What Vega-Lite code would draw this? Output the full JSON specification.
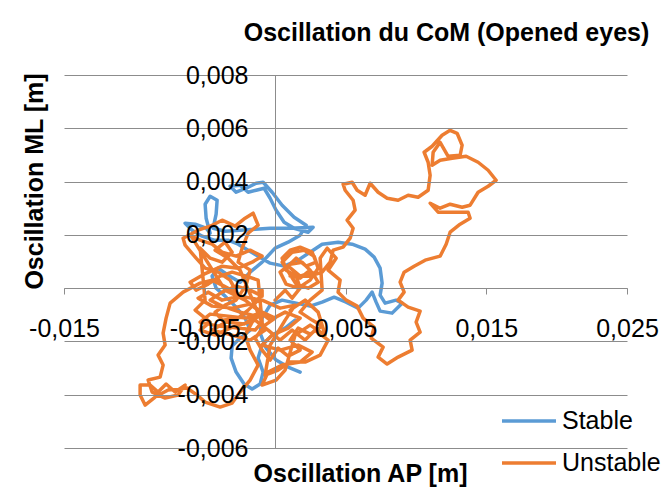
{
"$schema": "https://vega.github.io/schema/vega-lite/v6.json",
"width": 563, "height": 373,
"autosize": {"type": "none"},
"padding": {"left": 64, "top": 75, "right": 43, "bottom": 45},
"background": "white",
"config": {"view": {"stroke": null}, "font": "Liberation Sans"},
"title": {"text": "Oscillation du CoM (Opened eyes)", "font": "Liberation Sans", "fontSize": 25, "fontWeight": "bold", "color": "#000000", "anchor": "middle", "dx": 101, "offset": 17},
"data": {"values": [
{"s":"Stable","i":1,"x":0.001776,"y":-0.00315},
{"s":"Stable","i":2,"x":0.000924,"y":-0.002963},
{"s":"Stable","i":3,"x":0.000071,"y":-0.0027},
{"s":"Stable","i":4,"x":-0.000639,"y":-0.00225},
{"s":"Stable","i":5,"x":-0.001066,"y":-0.001688},
{"s":"Stable","i":6,"x":-0.000924,"y":-0.001125},
{"s":"Stable","i":7,"x":-0.000355,"y":-0.000638},
{"s":"Stable","i":8,"x":0.000497,"y":-0.00045},
{"s":"Stable","i":9,"x":0.001492,"y":-0.000563},
{"s":"Stable","i":10,"x":0.002487,"y":-0.000675},
{"s":"Stable","i":11,"x":0.003339,"y":-0.000525},
{"s":"Stable","i":12,"x":0.004192,"y":-0.000338},
{"s":"Stable","i":13,"x":0.005045,"y":-0.000525},
{"s":"Stable","i":14,"x":0.005897,"y":-0.00075},
{"s":"Stable","i":15,"x":0.006466,"y":-0.00045},
{"s":"Stable","i":16,"x":0.006892,"y":-0.00015},
{"s":"Stable","i":17,"x":0.007176,"y":-0.000525},
{"s":"Stable","i":18,"x":0.00746,"y":-0.000863},
{"s":"Stable","i":19,"x":0.008313,"y":-0.000938},
{"s":"Stable","i":20,"x":0.009023,"y":-0.000563},
{"s":"Stable","i":21,"x":0.008597,"y":-0.00045},
{"s":"Stable","i":22,"x":0.007816,"y":-0.000563},
{"s":"Stable","i":23,"x":0.00746,"y":-0.000263},
{"s":"Stable","i":24,"x":0.007602,"y":0.000188},
{"s":"Stable","i":25,"x":0.00746,"y":0.00075},
{"s":"Stable","i":26,"x":0.007034,"y":0.001163},
{"s":"Stable","i":27,"x":0.006395,"y":0.001463},
{"s":"Stable","i":28,"x":0.005471,"y":0.00165},
{"s":"Stable","i":29,"x":0.004476,"y":0.001725},
{"s":"Stable","i":30,"x":0.003339,"y":0.00165},
{"s":"Stable","i":31,"x":0.002487,"y":0.00135},
{"s":"Stable","i":32,"x":0.001634,"y":0.00105},
{"s":"Stable","i":33,"x":0.000639,"y":0.000825},
{"s":"Stable","i":34,"x":-0.000355,"y":0.000938},
{"s":"Stable","i":35,"x":-0.001208,"y":0.0012},
{"s":"Stable","i":36,"x":-0.001918,"y":0.001425},
{"s":"Stable","i":37,"x":-0.002629,"y":0.00165},
{"s":"Stable","i":38,"x":-0.003339,"y":0.0018},
{"s":"Stable","i":39,"x":-0.004334,"y":0.0018},
{"s":"Stable","i":40,"x":-0.005187,"y":0.00195},
{"s":"Stable","i":41,"x":-0.005897,"y":0.002175},
{"s":"Stable","i":42,"x":-0.006395,"y":0.002438},
{"s":"Stable","i":43,"x":-0.005684,"y":0.0024},
{"s":"Stable","i":44,"x":-0.004902,"y":0.00225},
{"s":"Stable","i":45,"x":-0.004618,"y":0.002063},
{"s":"Stable","i":46,"x":-0.004902,"y":0.002625},
{"s":"Stable","i":47,"x":-0.004974,"y":0.00315},
{"s":"Stable","i":48,"x":-0.004618,"y":0.00345},
{"s":"Stable","i":49,"x":-0.004121,"y":0.0033},
{"s":"Stable","i":50,"x":-0.004192,"y":0.002775},
{"s":"Stable","i":51,"x":-0.004405,"y":0.00225},
{"s":"Stable","i":52,"x":-0.003553,"y":0.002138},
{"s":"Stable","i":53,"x":-0.002487,"y":0.002175},
{"s":"Stable","i":54,"x":-0.001421,"y":0.002213},
{"s":"Stable","i":55,"x":-0.000355,"y":0.00225},
{"s":"Stable","i":56,"x":0.001066,"y":0.00225},
{"s":"Stable","i":57,"x":0.0027,"y":0.002288},
{"s":"Stable","i":58,"x":0.002345,"y":0.0021},
{"s":"Stable","i":59,"x":0.00135,"y":0.00225},
{"s":"Stable","i":60,"x":0.000639,"y":0.002475},
{"s":"Stable","i":61,"x":0.000071,"y":0.002925},
{"s":"Stable","i":62,"x":-0.000355,"y":0.003375},
{"s":"Stable","i":63,"x":-0.000782,"y":0.00375},
{"s":"Stable","i":64,"x":-0.00135,"y":0.003675},
{"s":"Stable","i":65,"x":-0.001918,"y":0.0036},
{"s":"Stable","i":66,"x":-0.002487,"y":0.003863},
{"s":"Stable","i":67,"x":-0.003197,"y":0.003825},
{"s":"Stable","i":68,"x":-0.002771,"y":0.0036},
{"s":"Stable","i":69,"x":-0.00206,"y":0.00375},
{"s":"Stable","i":70,"x":-0.00135,"y":0.003938},
{"s":"Stable","i":71,"x":-0.000853,"y":0.003975},
{"s":"Stable","i":72,"x":-0.000213,"y":0.0036},
{"s":"Stable","i":73,"x":0.000497,"y":0.003113},
{"s":"Stable","i":74,"x":0.00135,"y":0.002663},
{"s":"Stable","i":75,"x":0.002203,"y":0.002363},
{"s":"Stable","i":76,"x":0.001776,"y":0.001988},
{"s":"Stable","i":77,"x":0.000924,"y":0.001725},
{"s":"Stable","i":78,"x":0.0,"y":0.0015},
{"s":"Stable","i":79,"x":-0.000924,"y":0.000975},
{"s":"Stable","i":80,"x":-0.001776,"y":0.0006},
{"s":"Stable","i":81,"x":-0.002487,"y":0.000225},
{"s":"Stable","i":82,"x":-0.003339,"y":0.000488},
{"s":"Stable","i":83,"x":-0.00405,"y":0.00075},
{"s":"Stable","i":84,"x":-0.004476,"y":0.00045},
{"s":"Stable","i":85,"x":-0.004192,"y":0.0},
{"s":"Stable","i":86,"x":-0.003553,"y":-0.0003},
{"s":"Stable","i":87,"x":-0.002842,"y":-0.000675},
{"s":"Stable","i":88,"x":-0.002132,"y":-0.001125},
{"s":"Stable","i":89,"x":-0.001776,"y":-0.001575},
{"s":"Stable","i":90,"x":-0.002487,"y":-0.001875},
{"s":"Stable","i":91,"x":-0.003055,"y":-0.002175},
{"s":"Stable","i":92,"x":-0.003126,"y":-0.002625},
{"s":"Stable","i":93,"x":-0.002771,"y":-0.00315},
{"s":"Stable","i":94,"x":-0.002203,"y":-0.0036},
{"s":"Stable","i":95,"x":-0.001634,"y":-0.003788},
{"s":"Stable","i":96,"x":-0.001066,"y":-0.0036},
{"s":"Stable","i":97,"x":-0.000853,"y":-0.00315},
{"s":"Stable","i":98,"x":-0.001208,"y":-0.002625},
{"s":"Stable","i":99,"x":-0.000924,"y":-0.002138},
{"s":"Stable","i":100,"x":-0.000213,"y":-0.001763},
{"s":"Stable","i":101,"x":0.000711,"y":-0.0015},
{"s":"Stable","i":102,"x":0.001421,"y":-0.0012},
{"s":"Unstable","i":1,"x":0.0,"y":-0.00045},
{"s":"Unstable","i":2,"x":0.000711,"y":-0.000075},
{"s":"Unstable","i":3,"x":0.001208,"y":-0.000375},
{"s":"Unstable","i":4,"x":0.001776,"y":0.0},
{"s":"Unstable","i":5,"x":0.001492,"y":0.00045},
{"s":"Unstable","i":6,"x":0.000782,"y":0.000675},
{"s":"Unstable","i":7,"x":0.000497,"y":0.001125},
{"s":"Unstable","i":8,"x":0.001066,"y":0.001425},
{"s":"Unstable","i":9,"x":0.001776,"y":0.001538},
{"s":"Unstable","i":10,"x":0.002629,"y":0.00135},
{"s":"Unstable","i":11,"x":0.002913,"y":0.000975},
{"s":"Unstable","i":12,"x":0.002203,"y":0.000825},
{"s":"Unstable","i":13,"x":0.001492,"y":0.001125},
{"s":"Unstable","i":14,"x":0.000924,"y":0.000825},
{"s":"Unstable","i":15,"x":0.001776,"y":0.00045},
{"s":"Unstable","i":16,"x":0.002629,"y":0.0006},
{"s":"Unstable","i":17,"x":0.003055,"y":0.000225},
{"s":"Unstable","i":18,"x":0.002345,"y":0.0},
{"s":"Unstable","i":19,"x":0.001492,"y":0.00015},
{"s":"Unstable","i":19.01,"x":0.000497,"y":0.000975},
{"s":"Unstable","i":19.02,"x":0.001208,"y":0.00135},
{"s":"Unstable","i":19.03,"x":0.00206,"y":0.001425},
{"s":"Unstable","i":19.04,"x":0.002771,"y":0.0012},
{"s":"Unstable","i":19.05,"x":0.003055,"y":0.00075},
{"s":"Unstable","i":19.06,"x":0.002487,"y":0.0003},
{"s":"Unstable","i":19.07,"x":0.001634,"y":0.0},
{"s":"Unstable","i":19.08,"x":0.000782,"y":0.00015},
{"s":"Unstable","i":19.09,"x":0.000355,"y":0.0006},
{"s":"Unstable","i":19.1,"x":0.001066,"y":0.0009},
{"s":"Unstable","i":19.11,"x":0.001918,"y":0.000975},
{"s":"Unstable","i":19.12,"x":0.002487,"y":0.000675},
{"s":"Unstable","i":19.13,"x":0.001776,"y":0.000375},
{"s":"Unstable","i":19.14,"x":0.001066,"y":0.00045},
{"s":"Unstable","i":20,"x":0.002487,"y":0.00045},
{"s":"Unstable","i":21,"x":0.003339,"y":0.0006},
{"s":"Unstable","i":22,"x":0.003908,"y":0.000975},
{"s":"Unstable","i":23,"x":0.004121,"y":0.001425},
{"s":"Unstable","i":24,"x":0.004831,"y":0.001538},
{"s":"Unstable","i":25,"x":0.005329,"y":0.001875},
{"s":"Unstable","i":26,"x":0.005542,"y":0.00225},
{"s":"Unstable","i":27,"x":0.005116,"y":0.00255},
{"s":"Unstable","i":28,"x":0.005684,"y":0.002925},
{"s":"Unstable","i":29,"x":0.005542,"y":0.0033},
{"s":"Unstable","i":30,"x":0.004974,"y":0.003675},
{"s":"Unstable","i":31,"x":0.004831,"y":0.0039},
{"s":"Unstable","i":32,"x":0.005471,"y":0.003975},
{"s":"Unstable","i":33,"x":0.005826,"y":0.003675},
{"s":"Unstable","i":34,"x":0.006395,"y":0.003488},
{"s":"Unstable","i":35,"x":0.00675,"y":0.003938},
{"s":"Unstable","i":36,"x":0.007318,"y":0.0036},
{"s":"Unstable","i":37,"x":0.007958,"y":0.003375},
{"s":"Unstable","i":38,"x":0.008739,"y":0.0033},
{"s":"Unstable","i":39,"x":0.00945,"y":0.003488},
{"s":"Unstable","i":40,"x":0.01016,"y":0.003413},
{"s":"Unstable","i":41,"x":0.010871,"y":0.003675},
{"s":"Unstable","i":42,"x":0.011013,"y":0.004238},
{"s":"Unstable","i":43,"x":0.010871,"y":0.004725},
{"s":"Unstable","i":44,"x":0.010586,"y":0.0051},
{"s":"Unstable","i":45,"x":0.011155,"y":0.005325},
{"s":"Unstable","i":46,"x":0.011865,"y":0.005738},
{"s":"Unstable","i":47,"x":0.012434,"y":0.005925},
{"s":"Unstable","i":48,"x":0.012931,"y":0.005813},
{"s":"Unstable","i":49,"x":0.013286,"y":0.005363},
{"s":"Unstable","i":50,"x":0.013144,"y":0.004988},
{"s":"Unstable","i":51,"x":0.012292,"y":0.00495},
{"s":"Unstable","i":52,"x":0.011723,"y":0.005475},
{"s":"Unstable","i":53,"x":0.011226,"y":0.0051},
{"s":"Unstable","i":54,"x":0.011155,"y":0.004613},
{"s":"Unstable","i":55,"x":0.011723,"y":0.0048},
{"s":"Unstable","i":56,"x":0.012576,"y":0.004875},
{"s":"Unstable","i":57,"x":0.013571,"y":0.00495},
{"s":"Unstable","i":58,"x":0.014423,"y":0.004725},
{"s":"Unstable","i":59,"x":0.015134,"y":0.004425},
{"s":"Unstable","i":60,"x":0.015702,"y":0.00405},
{"s":"Unstable","i":61,"x":0.015134,"y":0.003825},
{"s":"Unstable","i":62,"x":0.014423,"y":0.0036},
{"s":"Unstable","i":63,"x":0.013855,"y":0.003113},
{"s":"Unstable","i":64,"x":0.013286,"y":0.003038},
{"s":"Unstable","i":65,"x":0.012434,"y":0.00315},
{"s":"Unstable","i":66,"x":0.011723,"y":0.003},
{"s":"Unstable","i":67,"x":0.011013,"y":0.003188},
{"s":"Unstable","i":68,"x":0.011581,"y":0.00285},
{"s":"Unstable","i":69,"x":0.012576,"y":0.00285},
{"s":"Unstable","i":70,"x":0.013713,"y":0.00285},
{"s":"Unstable","i":71,"x":0.013855,"y":0.002625},
{"s":"Unstable","i":72,"x":0.013144,"y":0.0024},
{"s":"Unstable","i":73,"x":0.012434,"y":0.0021},
{"s":"Unstable","i":74,"x":0.01215,"y":0.00165},
{"s":"Unstable","i":75,"x":0.011723,"y":0.0012},
{"s":"Unstable","i":76,"x":0.010658,"y":0.00105},
{"s":"Unstable","i":77,"x":0.009876,"y":0.000825},
{"s":"Unstable","i":78,"x":0.009165,"y":0.0006},
{"s":"Unstable","i":79,"x":0.008881,"y":0.000225},
{"s":"Unstable","i":80,"x":0.009165,"y":-0.00015},
{"s":"Unstable","i":81,"x":0.008739,"y":-0.00045},
{"s":"Unstable","i":82,"x":0.00945,"y":-0.000713},
{"s":"Unstable","i":83,"x":0.010302,"y":-0.000863},
{"s":"Unstable","i":84,"x":0.010018,"y":-0.001275},
{"s":"Unstable","i":85,"x":0.010302,"y":-0.00165},
{"s":"Unstable","i":86,"x":0.009592,"y":-0.00195},
{"s":"Unstable","i":87,"x":0.009734,"y":-0.002325},
{"s":"Unstable","i":88,"x":0.008739,"y":-0.002588},
{"s":"Unstable","i":89,"x":0.007958,"y":-0.00285},
{"s":"Unstable","i":90,"x":0.007318,"y":-0.002588},
{"s":"Unstable","i":91,"x":0.007673,"y":-0.002213},
{"s":"Unstable","i":92,"x":0.006821,"y":-0.001875},
{"s":"Unstable","i":93,"x":0.007034,"y":-0.001463},
{"s":"Unstable","i":94,"x":0.006252,"y":-0.001125},
{"s":"Unstable","i":95,"x":0.005826,"y":-0.000675},
{"s":"Unstable","i":96,"x":0.005045,"y":-0.00045},
{"s":"Unstable","i":97,"x":0.004476,"y":-0.00015},
{"s":"Unstable","i":98,"x":0.004618,"y":0.0003},
{"s":"Unstable","i":99,"x":0.003766,"y":0.000675},
{"s":"Unstable","i":100,"x":0.004334,"y":0.001125},
{"s":"Unstable","i":101,"x":0.003695,"y":0.0015},
{"s":"Unstable","i":102,"x":0.003197,"y":0.001125},
{"s":"Unstable","i":103,"x":0.003339,"y":-0.000075},
{"s":"Unstable","i":104,"x":0.002487,"y":-0.00045},
{"s":"Unstable","i":105,"x":0.001776,"y":-0.0009},
{"s":"Unstable","i":106,"x":0.002629,"y":-0.0012},
{"s":"Unstable","i":107,"x":0.003339,"y":-0.001425},
{"s":"Unstable","i":108,"x":0.002487,"y":-0.001725},
{"s":"Unstable","i":109,"x":0.001634,"y":-0.0015},
{"s":"Unstable","i":110,"x":0.001066,"y":-0.00195},
{"s":"Unstable","i":111,"x":0.001776,"y":-0.002325},
{"s":"Unstable","i":112,"x":0.000924,"y":-0.00255},
{"s":"Unstable","i":113,"x":0.000213,"y":-0.00225},
{"s":"Unstable","i":114,"x":-0.000355,"y":-0.0027},
{"s":"Unstable","i":115,"x":-0.000924,"y":-0.002325},
{"s":"Unstable","i":116,"x":-0.001421,"y":-0.001875},
{"s":"Unstable","i":117,"x":-0.000711,"y":-0.001388},
{"s":"Unstable","i":118,"x":0.0,"y":-0.001125},
{"s":"Unstable","i":119,"x":-0.000924,"y":-0.0009},
{"s":"Unstable","i":120,"x":-0.001634,"y":-0.001275},
{"s":"Unstable","i":121,"x":-0.002132,"y":-0.001763},
{"s":"Unstable","i":122,"x":-0.001776,"y":-0.002325},
{"s":"Unstable","i":123,"x":-0.001208,"y":-0.002888},
{"s":"Unstable","i":124,"x":-0.001776,"y":-0.00345},
{"s":"Unstable","i":125,"x":-0.002487,"y":-0.0039},
{"s":"Unstable","i":126,"x":-0.003055,"y":-0.004313},
{"s":"Unstable","i":127,"x":-0.003908,"y":-0.004463},
{"s":"Unstable","i":128,"x":-0.004974,"y":-0.004275},
{"s":"Unstable","i":129,"x":-0.005542,"y":-0.004013},
{"s":"Unstable","i":130,"x":-0.006252,"y":-0.00375},
{"s":"Unstable","i":131,"x":-0.007602,"y":-0.003825},
{"s":"Unstable","i":132,"x":-0.008526,"y":-0.004088},
{"s":"Unstable","i":133,"x":-0.009237,"y":-0.004388},
{"s":"Unstable","i":134,"x":-0.009592,"y":-0.004013},
{"s":"Unstable","i":135,"x":-0.009592,"y":-0.003638},
{"s":"Unstable","i":135.1,"x":-0.008881,"y":-0.003638},
{"s":"Unstable","i":135.2,"x":-0.008313,"y":-0.0039},
{"s":"Unstable","i":135.3,"x":-0.007745,"y":-0.0036},
{"s":"Unstable","i":135.4,"x":-0.007105,"y":-0.0039},
{"s":"Unstable","i":135.5,"x":-0.006395,"y":-0.003638},
{"s":"Unstable","i":135.6,"x":-0.006892,"y":-0.004013},
{"s":"Unstable","i":135.7,"x":-0.007816,"y":-0.004125},
{"s":"Unstable","i":135.8,"x":-0.008739,"y":-0.0039},
{"s":"Unstable","i":136,"x":-0.009023,"y":-0.00345},
{"s":"Unstable","i":137,"x":-0.008171,"y":-0.003338},
{"s":"Unstable","i":138,"x":-0.007958,"y":-0.002888},
{"s":"Unstable","i":139,"x":-0.008313,"y":-0.002513},
{"s":"Unstable","i":140,"x":-0.007816,"y":-0.002138},
{"s":"Unstable","i":141,"x":-0.007958,"y":-0.001688},
{"s":"Unstable","i":142,"x":-0.007745,"y":-0.001125},
{"s":"Unstable","i":143,"x":-0.00746,"y":-0.000563},
{"s":"Unstable","i":144,"x":-0.006537,"y":-0.00015},
{"s":"Unstable","i":145,"x":-0.005329,"y":0.000188},
{"s":"Unstable","i":146,"x":-0.004476,"y":0.0003},
{"s":"Unstable","i":147,"x":-0.003766,"y":0.000113},
{"s":"Unstable","i":148,"x":-0.0027,"y":-0.000188},
{"s":"Unstable","i":149,"x":-0.003197,"y":0.0003},
{"s":"Unstable","i":150,"x":-0.00405,"y":0.0006},
{"s":"Unstable","i":151,"x":-0.004974,"y":0.00075},
{"s":"Unstable","i":152,"x":-0.005613,"y":0.001125},
{"s":"Unstable","i":153,"x":-0.006395,"y":0.001613},
{"s":"Unstable","i":154,"x":-0.006537,"y":0.001875},
{"s":"Unstable","i":155,"x":-0.005471,"y":0.002175},
{"s":"Unstable","i":156,"x":-0.004618,"y":0.002325},
{"s":"Unstable","i":157,"x":-0.003766,"y":0.00255},
{"s":"Unstable","i":158,"x":-0.002842,"y":0.002325},
{"s":"Unstable","i":159,"x":-0.002132,"y":0.002625},
{"s":"Unstable","i":160,"x":-0.001563,"y":0.002813},
{"s":"Unstable","i":161,"x":-0.001208,"y":0.002363},
{"s":"Unstable","i":162,"x":-0.001918,"y":0.002063},
{"s":"Unstable","i":163,"x":-0.002345,"y":0.0015},
{"s":"Unstable","i":164,"x":-0.002629,"y":0.000975},
{"s":"Unstable","i":165,"x":-0.001776,"y":0.000675},
{"s":"Unstable","i":166,"x":-0.00206,"y":0.000113},
{"s":"Unstable","i":167,"x":-0.002771,"y":-0.00045},
{"s":"Unstable","i":168,"x":-0.003553,"y":-0.000638},
{"s":"Unstable","i":169,"x":-0.004263,"y":-0.0009},
{"s":"Unstable","i":170,"x":-0.003766,"y":-0.0012},
{"s":"Unstable","i":171,"x":-0.002629,"y":-0.001125},
{"s":"Unstable","i":172,"x":-0.001918,"y":-0.000825},
{"s":"Unstable","i":173,"x":-0.001208,"y":-0.00045},
{"s":"Unstable","i":174,"x":-0.000924,"y":-0.000075},
{"s":"Unstable","i":174.01,"x":-0.000924,"y":-0.0003},
{"s":"Unstable","i":174.02,"x":-0.001776,"y":-0.000075},
{"s":"Unstable","i":174.03,"x":-0.002771,"y":0.000075},
{"s":"Unstable","i":174.04,"x":-0.003766,"y":-0.00015},
{"s":"Unstable","i":174.05,"x":-0.004618,"y":-0.00045},
{"s":"Unstable","i":174.06,"x":-0.003766,"y":-0.000675},
{"s":"Unstable","i":174.07,"x":-0.002487,"y":-0.0009},
{"s":"Unstable","i":174.08,"x":-0.00135,"y":-0.00105},
{"s":"Unstable","i":174.09,"x":-0.002203,"y":-0.00135},
{"s":"Unstable","i":174.1,"x":-0.003482,"y":-0.001275},
{"s":"Unstable","i":174.11,"x":-0.004476,"y":-0.001575},
{"s":"Unstable","i":174.12,"x":-0.003339,"y":-0.001725},
{"s":"Unstable","i":174.13,"x":-0.001776,"y":-0.00195},
{"s":"Unstable","i":174.14,"x":-0.000711,"y":-0.001575},
{"s":"Unstable","i":175,"x":-0.002487,"y":0.000675},
{"s":"Unstable","i":176,"x":-0.003339,"y":0.001125},
{"s":"Unstable","i":177,"x":-0.004263,"y":0.001425},
{"s":"Unstable","i":178,"x":-0.003553,"y":0.001725},
{"s":"Unstable","i":179,"x":-0.003055,"y":0.00135},
{"s":"Unstable","i":180,"x":-0.003766,"y":0.000975},
{"s":"Unstable","i":181,"x":-0.004618,"y":0.001125},
{"s":"Unstable","i":182,"x":-0.005329,"y":0.0015},
{"s":"Unstable","i":183,"x":-0.004974,"y":-0.00045},
{"s":"Unstable","i":184,"x":-0.005684,"y":-0.000825},
{"s":"Unstable","i":185,"x":-0.004618,"y":-0.001275},
{"s":"Unstable","i":186,"x":-0.005329,"y":-0.001575},
{"s":"Unstable","i":187,"x":-0.004263,"y":-0.001763},
{"s":"Unstable","i":188,"x":-0.003197,"y":-0.0015},
{"s":"Unstable","i":189,"x":-0.001421,"y":-0.0012},
{"s":"Unstable","i":190,"x":-0.000497,"y":-0.001575},
{"s":"Unstable","i":191,"x":0.000355,"y":-0.00195},
{"s":"Unstable","i":192,"x":0.001208,"y":-0.001575},
{"s":"Unstable","i":193,"x":0.002132,"y":-0.00195},
{"s":"Unstable","i":194,"x":0.002842,"y":-0.001575},
{"s":"Unstable","i":195,"x":0.003766,"y":-0.00195},
{"s":"Unstable","i":196,"x":0.003197,"y":-0.002513},
{"s":"Unstable","i":197,"x":0.002132,"y":-0.002775},
{"s":"Unstable","i":198,"x":0.001066,"y":-0.002775},
{"s":"Unstable","i":199,"x":0.000213,"y":-0.003075},
{"s":"Unstable","i":200,"x":-0.000711,"y":-0.003263},
{"s":"Unstable","i":201,"x":-0.000355,"y":-0.002138},
{"s":"Unstable","i":202,"x":0.000711,"y":-0.0012},
{"s":"Unstable","i":203,"x":0.001421,"y":-0.000638},
{"s":"Unstable","i":204,"x":0.000355,"y":-0.00075},
{"s":"Unstable","i":205,"x":-0.000924,"y":-0.00045},
{"s":"Unstable","i":206,"x":-0.002487,"y":-0.0003},
{"s":"Unstable","i":207,"x":-0.003766,"y":-0.00045},
{"s":"Unstable","i":208,"x":-0.00476,"y":-0.00015},
{"s":"Unstable","i":209,"x":-0.005471,"y":-0.000375},
{"s":"Unstable","i":210,"x":-0.004476,"y":-0.000675},
{"s":"Unstable","i":211,"x":-0.003055,"y":-0.00075},
{"s":"Unstable","i":212,"x":-0.001776,"y":-0.0006},
{"s":"Unstable","i":213,"x":-0.000924,"y":-0.0009},
{"s":"Unstable","i":214,"x":-0.00206,"y":-0.001125},
{"s":"Unstable","i":215,"x":-0.003339,"y":-0.00105},
{"s":"Unstable","i":216,"x":-0.004618,"y":-0.000975},
{"s":"Unstable","i":217,"x":-0.005329,"y":-0.001275},
{"s":"Unstable","i":218,"x":-0.00405,"y":-0.001425},
{"s":"Unstable","i":219,"x":-0.002629,"y":-0.0015},
{"s":"Unstable","i":220,"x":-0.001421,"y":-0.001575},
{"s":"Unstable","i":221,"x":-0.000924,"y":-0.001275},
{"s":"Unstable","i":222,"x":-0.001208,"y":0.0003},
{"s":"Unstable","i":223,"x":-0.00206,"y":0.00045},
{"s":"Unstable","i":224,"x":-0.003055,"y":0.0006},
{"s":"Unstable","i":225,"x":-0.003908,"y":0.00045},
{"s":"Unstable","i":226,"x":-0.00476,"y":0.00015},
{"s":"Unstable","i":227,"x":-0.005613,"y":-0.000075},
{"s":"Unstable","i":228,"x":-0.006039,"y":0.000225},
{"s":"Unstable","i":229,"x":-0.005045,"y":0.000525},
{"s":"Unstable","i":230,"x":-0.003766,"y":0.000825},
{"s":"Unstable","i":231,"x":-0.002629,"y":0.00075},
{"s":"Unstable","i":232,"x":-0.001634,"y":0.000975},
{"s":"Unstable","i":233,"x":-0.000924,"y":0.0012},
{"s":"Unstable","i":234,"x":-0.001776,"y":0.001425},
{"s":"Unstable","i":235,"x":-0.002771,"y":0.0012},
{"s":"Unstable","i":236,"x":-0.003766,"y":0.00135},
{"s":"Unstable","i":237,"x":-0.004476,"y":0.00165},
{"s":"Unstable","i":238,"x":-0.005329,"y":0.0018},
{"s":"Unstable","i":239,"x":-0.005968,"y":0.00195},
{"s":"Unstable","i":240,"x":-0.003553,"y":-0.000075},
{"s":"Unstable","i":241,"x":-0.002132,"y":-0.00045},
{"s":"Unstable","i":242,"x":-0.000355,"y":-0.0012},
{"s":"Unstable","i":243,"x":0.000711,"y":-0.0009},
{"s":"Unstable","i":244,"x":0.001776,"y":-0.001125},
{"s":"Unstable","i":245,"x":0.000924,"y":-0.0015},
{"s":"Unstable","i":246,"x":-0.000213,"y":-0.001763},
{"s":"Unstable","i":247,"x":-0.000924,"y":-0.002138},
{"s":"Unstable","i":248,"x":0.000355,"y":-0.002325},
{"s":"Unstable","i":249,"x":0.001634,"y":-0.002138},
{"s":"Unstable","i":250,"x":0.002629,"y":-0.0024},
{"s":"Unstable","i":251,"x":0.001776,"y":-0.002775},
{"s":"Unstable","i":252,"x":0.000497,"y":-0.002888},
{"s":"Unstable","i":253,"x":-0.000497,"y":-0.00315},
{"s":"Unstable","i":254,"x":-0.000924,"y":-0.003638},
{"s":"Unstable","i":255,"x":0.000071,"y":-0.00345},
{"s":"Unstable","i":256,"x":0.000711,"y":-0.003075},
{"s":"Unstable","i":257,"x":0.001421,"y":-0.001763},
{"s":"Unstable","i":258,"x":0.002487,"y":-0.001388},
{"s":"Unstable","i":259,"x":0.003553,"y":-0.001763},
{"s":"Unstable","i":260,"x":0.003055,"y":-0.0009},
{"s":"Unstable","i":261,"x":0.002132,"y":-0.00045},
{"s":"Unstable","i":262,"x":0.001066,"y":-0.000825}
]},
"mark": {"type": "line", "strokeWidth": 3.5, "strokeCap": "round", "strokeJoin": "round", "clip": false},
"encoding": {
  "x": {"field": "x", "type": "quantitative",
    "scale": {"domain": [-0.015, 0.025], "nice": false, "zero": false},
    "axis": {"values": [-0.015, -0.005, 0.005, 0.015, 0.025], "offset": -160, "grid": false, "zindex": 1,
      "domainColor": "#8c8c8c", "tickColor": "#8c8c8c", "tickSize": 6, "labelPadding": 22,
      "labelFont": "Liberation Sans", "labelFontSize": 25, "labelColor": "#000000", "labelFlush": false, "labelOverlap": false,
      "labelExpr": "datum.value == 0 ? '0' : replace(replace(format(datum.value, '.3f'), '.', ','), '\u2212', '-')",
      "title": "Oscillation AP [m]", "titleFont": "Liberation Sans", "titleFontSize": 25, "titleFontWeight": "bold", "titleColor": "#000000",
      "titleX": 296, "titleY": 185, "titleAlign": "center", "titleBaseline": "middle", "titleAngle": 0}},
  "y": {"field": "y", "type": "quantitative",
    "scale": {"domain": [-0.006, 0.008], "nice": false, "zero": false},
    "axis": {"values": [-0.006, -0.004, -0.002, 0, 0.002, 0.004, 0.006, 0.008], "offset": -211, "grid": true, "zindex": 1,
      "gridColor": "#8c8c8c", "gridWidth": 1, "domainColor": "#8c8c8c", "ticks": false, "labelPadding": 27,
      "labelFont": "Liberation Sans", "labelFontSize": 25, "labelColor": "#000000", "labelBaseline": "middle", "labelFlush": false, "labelOverlap": false,
      "labelExpr": "datum.value == 0 ? '0' : replace(replace(format(datum.value, '.3f'), '.', ','), '\u2212', '-')",
      "title": "Oscillation ML [m]", "titleFont": "Liberation Sans", "titleFontSize": 25, "titleFontWeight": "bold", "titleColor": "#000000",
      "titleX": -241, "titleY": 106, "titleAngle": -90, "titleAlign": "center", "titleBaseline": "middle"}},
  "color": {"field": "s", "type": "nominal",
    "scale": {"domain": ["Stable", "Unstable"], "range": ["#5B9BD5", "#ED7D31"]},
    "legend": {"orient": "none", "legendX": 436, "legendY": 317, "title": null, "symbolType": "stroke", "symbolSize": 2916,
      "symbolStrokeWidth": 3.5, "labelFont": "Liberation Sans", "labelFontSize": 25, "labelColor": "#000000", "rowPadding": -5, "labelOffset": 4}},
  "order": {"field": "i", "type": "quantitative"}
}
}
